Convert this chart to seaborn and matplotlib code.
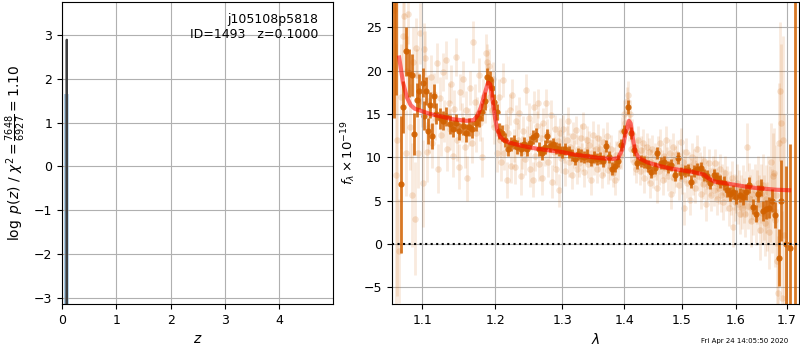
import numpy as np
import pandas as pd
import matplotlib
matplotlib.use("Agg")
import matplotlib.pyplot as plt
import seaborn as sns
from matplotlib.ticker import FixedLocator, FormatStrFormatter, NullLocator

# ---------------- data: left panel (redshift fit) ----------------
z_pdf = [0.0, 0.080, 0.0875, 0.095, 4.99]
logp_pdf = [-50.0, -50.0, 2.89, -50.0, -50.0]
z_chi = [0.036, 0.040, 0.122, 0.126]
chi_fill = [-10.0, 1.65, 1.65, -10.0]
z_ticks = [0, 1, 2, 3, 4]
logp_ticks = [-3, -2, -1, 0, 1, 2, 3]

# ---------------- data: right panel (spectrum) ----------------
wave_ticks = [1.1, 1.2, 1.3, 1.4, 1.5, 1.6, 1.7]

# model (wavelength, flux)
model_wave = [1.070, 1.075, 1.080, 1.085, 1.090, 1.100, 1.110, 1.120, 1.130, 1.140,
              1.150, 1.160, 1.170, 1.175, 1.180, 1.185, 1.190, 1.193, 1.196, 1.200,
              1.203, 1.207, 1.212, 1.220, 1.240, 1.260, 1.280, 1.300, 1.320, 1.340,
              1.360, 1.380, 1.390, 1.397, 1.403, 1.408, 1.411, 1.415, 1.419, 1.425,
              1.440, 1.460, 1.480, 1.500, 1.520, 1.540, 1.550, 1.560, 1.580, 1.600,
              1.620, 1.640, 1.660, 1.680, 1.705]
model_flux = [21.5, 18.6, 16.9, 16.0, 15.6, 15.3, 15.0, 14.8, 14.6, 14.4,
              14.3, 14.2, 14.3, 14.8, 15.8, 17.3, 18.6, 18.4, 16.8, 14.5,
              13.2, 12.4, 12.0, 11.7, 11.3, 11.0, 10.8, 10.6, 10.3, 10.1,
              9.9, 9.8, 9.9, 10.9, 12.9, 14.2, 13.9, 12.0, 10.6, 9.9,
              9.4, 9.0, 8.7, 8.5, 8.3, 8.0, 7.5, 7.2, 7.0, 6.8,
              6.6, 6.45, 6.35, 6.25, 6.2]

# binned spectrum (wavelength, flux, error)
binned_blue = [
    (1.0640, 31.0, 16.5), (1.0665, 31.0, 13.8), (1.0725, 6.9, 7.9), (1.0755, 15.8, 3.0),
    (1.0788, 22.2, 2.8), (1.0830, 19.7, 2.8), (1.0865, 19.5, 2.4), (1.0896, 12.7, 2.4),
    (1.0925, 16.6, 2.0), (1.0960, 17.6, 2.0), (1.1007, 18.6, 1.7), (1.1021, 14.8, 1.7),
    (1.1046, 17.6, 1.6), (1.1076, 13.0, 1.5), (1.1104, 16.0, 1.5), (1.1122, 12.4, 1.5),
    (1.1150, 17.1, 1.4), (1.1185, 15.0, 1.2), (1.1230, 14.5, 1.2), (1.1275, 14.2, 1.1),
    (1.1320, 14.7, 1.1), (1.1365, 13.8, 1.1), (1.1410, 13.3, 1.0), (1.1455, 14.0, 1.0),
    (1.1500, 13.0, 1.0), (1.1545, 13.6, 1.0), (1.1590, 12.8, 1.0), (1.1635, 13.5, 1.0),
    (1.1680, 13.2, 1.0), (1.1725, 14.0, 1.0), (1.1770, 14.5, 1.0), (1.1815, 15.2, 1.0),
    (1.1860, 16.5, 1.0), (1.1890, 19.3, 1.0), (1.1920, 19.0, 1.0), (1.1950, 18.0, 1.0),
    (1.1985, 16.4, 0.9), (1.2025, 15.2, 0.9), (1.2060, 13.0, 0.9), (1.2100, 12.8, 0.9),
]
binned_mid = [
    (1.2145, 12.0, 0.8), (1.2190, 11.0, 0.8), (1.2235, 11.5, 0.8), (1.2280, 11.8, 0.8),
    (1.2325, 11.2, 0.8), (1.2370, 11.0, 0.8), (1.2415, 11.5, 0.8), (1.2460, 10.9, 0.8),
    (1.2505, 11.7, 0.8), (1.2550, 12.3, 0.8), (1.2595, 12.6, 0.8), (1.2640, 11.0, 0.8),
    (1.2685, 10.5, 0.8), (1.2730, 11.2, 0.8), (1.2775, 12.5, 0.8), (1.2820, 11.3, 0.7),
    (1.2865, 11.5, 0.7), (1.2910, 11.1, 0.7), (1.2955, 10.9, 0.7), (1.3000, 10.6, 0.7),
    (1.3050, 11.0, 0.7), (1.3100, 10.6, 0.7), (1.3150, 10.3, 0.7), (1.3200, 9.8, 0.7),
    (1.3250, 10.4, 0.7), (1.3300, 10.2, 0.7), (1.3350, 10.0, 0.7), (1.3400, 10.2, 0.7),
    (1.3450, 9.7, 0.7), (1.3500, 10.0, 0.7), (1.3550, 9.8, 0.7), (1.3600, 9.9, 0.7),
    (1.3650, 9.6, 0.7), (1.3700, 11.3, 0.7), (1.3750, 10.0, 0.7), (1.3800, 8.7, 0.7),
    (1.3850, 9.0, 0.7), (1.3890, 9.6, 0.7), (1.3940, 11.4, 0.7), (1.3990, 13.0, 0.7),
    (1.4060, 15.8, 0.8), (1.4120, 12.8, 0.7), (1.4160, 10.8, 0.7), (1.4220, 9.3, 0.7),
    (1.4280, 9.6, 0.7), (1.4340, 9.5, 0.7), (1.4400, 9.0, 0.7), (1.4460, 8.3, 0.7),
    (1.4520, 8.8, 0.7), (1.4560, 10.5, 0.7), (1.4630, 9.3, 0.7), (1.4690, 9.4, 0.7),
]
binned_red = [
    (1.4750, 8.9, 0.7), (1.4810, 9.1, 0.7), (1.4870, 8.0, 0.7), (1.4930, 9.9, 0.7),
    (1.4990, 8.2, 0.7), (1.5050, 8.4, 0.7), (1.5110, 8.5, 0.7), (1.5160, 7.2, 0.7),
    (1.5220, 8.4, 0.7), (1.5280, 8.6, 0.7), (1.5340, 8.8, 0.7), (1.5400, 8.0, 0.7),
    (1.5460, 7.8, 0.7), (1.5520, 7.0, 0.7), (1.5580, 8.0, 0.7), (1.5640, 7.6, 0.7),
    (1.5700, 7.2, 0.8), (1.5770, 7.0, 0.8), (1.5830, 6.2, 0.8), (1.5890, 5.8, 0.8),
    (1.5950, 6.0, 0.8), (1.6010, 5.4, 0.8), (1.6070, 5.6, 0.8), (1.6130, 5.4, 0.9),
    (1.6200, 6.0, 0.9), (1.6260, 6.8, 0.9), (1.6330, 4.3, 0.9), (1.6380, 3.5, 1.0),
    (1.6420, 5.8, 1.0), (1.6490, 6.5, 1.0), (1.6530, 3.8, 1.1), (1.6580, 4.0, 1.1),
    (1.6650, 4.2, 1.2), (1.6710, 5.0, 1.3), (1.6760, 3.3, 1.5), (1.6850, -1.6, 3.3),
    (1.6880, 5.0, 4.7), (1.6990, 0.0, 9.0), (1.7075, -0.5, 12.0), (1.7165, 28.5, 40.0),
]

# unbinned spectrum (wavelength, flux, error)
unbinned_blue = [
    (1.0635, 27.0, 12.0), (1.0655, 8.0, 15.0), (1.0675, 12.0, 18.0), (1.0700, -0.8, 6.0),
    (1.0720, 17.0, 6.0), (1.0745, 24.0, 5.0), (1.0765, 26.3, 4.0), (1.0785, 10.5, 5.0),
    (1.0800, 20.0, 4.0), (1.0820, 26.5, 3.5), (1.0840, 13.5, 5.0), (1.0860, 5.7, 6.0),
    (1.0880, 21.0, 4.0), (1.0900, 2.9, 6.5), (1.0915, 22.6, 3.5), (1.0935, 19.5, 3.0),
    (1.0950, 10.5, 4.0), (1.0970, 24.3, 3.5), (1.0990, 16.5, 3.0), (1.1005, 7.0, 5.0),
    (1.1025, 22.5, 3.0), (1.1040, 21.5, 3.0), (1.1060, 10.6, 3.5), (1.1075, 16.5, 3.0),
    (1.1090, 13.5, 3.0), (1.1110, 19.2, 2.6), (1.1130, 11.6, 2.8), (1.1150, 17.3, 2.4),
    (1.1170, 14.5, 2.5), (1.1190, 20.9, 2.3), (1.1210, 8.7, 2.8), (1.1230, 16.8, 2.4),
    (1.1250, 12.6, 2.5), (1.1270, 19.8, 2.2), (1.1290, 14.2, 2.4), (1.1310, 21.2, 2.2),
    (1.1330, 11.0, 2.6), (1.1350, 16.3, 2.3), (1.1370, 13.2, 2.4), (1.1390, 18.4, 2.2),
    (1.1410, 10.2, 2.5), (1.1430, 15.6, 2.2), (1.1450, 21.6, 2.2), (1.1470, 12.0, 2.4),
    (1.1490, 8.9, 2.6), (1.1510, 17.5, 2.1), (1.1530, 14.0, 2.2), (1.1550, 19.0, 2.1),
    (1.1570, 11.2, 2.4), (1.1590, 15.4, 2.2), (1.1610, 7.6, 2.6), (1.1630, 13.5, 2.2),
    (1.1650, 18.0, 2.0), (1.1670, 11.6, 2.3), (1.1690, 23.3, 2.4), (1.1710, 16.4, 2.0),
    (1.1730, 12.8, 2.2), (1.1750, 15.0, 2.0), (1.1770, 19.5, 2.0), (1.1790, 14.0, 2.1),
    (1.1810, 10.0, 2.3), (1.1830, 17.0, 2.0), (1.1850, 16.0, 2.0), (1.1870, 22.0, 2.2),
    (1.1885, 21.0, 2.0), (1.1900, 18.5, 2.0), (1.1915, 20.5, 2.0), (1.1930, 17.0, 2.0),
    (1.1950, 15.5, 2.0), (1.1970, 19.0, 2.0), (1.1990, 13.5, 2.0), (1.2010, 14.5, 2.0),
    (1.2030, 10.5, 2.2), (1.2050, 17.0, 2.0), (1.2070, 12.0, 2.0), (1.2090, 9.5, 2.2),
]
unbinned_mid = [
    (1.2110, 18.9, 2.0), (1.2130, 10.5, 2.0), (1.2150, 13.5, 1.9), (1.2170, 7.4, 2.1),
    (1.2190, 12.8, 1.9), (1.2210, 15.5, 1.8), (1.2230, 9.0, 2.0), (1.2250, 17.2, 1.8),
    (1.2270, 11.4, 1.9), (1.2290, 8.9, 2.0), (1.2310, 14.2, 1.8), (1.2330, 12.0, 1.9),
    (1.2350, 15.1, 1.8), (1.2370, 7.8, 2.1), (1.2390, 10.6, 1.9), (1.2410, 13.0, 1.8),
    (1.2430, 9.8, 1.9), (1.2450, 17.8, 1.8), (1.2470, 11.8, 1.8), (1.2490, 14.5, 1.8),
    (1.2510, 8.6, 2.0), (1.2530, 12.5, 1.8), (1.2550, 7.4, 2.0), (1.2570, 15.8, 1.8),
    (1.2590, 10.2, 1.8), (1.2610, 13.6, 1.7), (1.2630, 16.2, 1.7), (1.2650, 9.2, 1.9),
    (1.2670, 12.2, 1.7), (1.2690, 7.6, 2.0), (1.2710, 14.0, 1.7), (1.2730, 10.8, 1.8),
    (1.2750, 16.2, 1.7), (1.2770, 12.7, 1.7), (1.2790, 9.5, 1.8), (1.2810, 11.6, 1.7),
    (1.2830, 14.9, 1.7), (1.2850, 7.2, 1.9), (1.2870, 10.6, 1.7), (1.2890, 13.2, 1.7),
    (1.2910, 8.6, 1.8), (1.2930, 11.9, 1.7), (1.2950, 6.2, 1.9), (1.2970, 12.8, 1.7),
    (1.2990, 9.9, 1.7), (1.3010, 13.3, 1.6), (1.3030, 10.9, 1.6), (1.3050, 8.4, 1.7),
    (1.3070, 12.0, 1.6), (1.3090, 14.2, 1.6), (1.3110, 9.4, 1.7), (1.3130, 11.2, 1.6),
    (1.3150, 8.0, 1.7), (1.3170, 12.5, 1.6), (1.3190, 10.4, 1.6), (1.3210, 13.1, 1.6),
    (1.3230, 8.6, 1.7), (1.3250, 11.0, 1.6), (1.3270, 9.3, 1.6), (1.3290, 12.2, 1.6),
    (1.3310, 10.0, 1.6), (1.3330, 13.6, 1.6), (1.3350, 8.3, 1.7), (1.3370, 10.8, 1.6),
    (1.3390, 12.0, 1.6), (1.3410, 9.2, 1.6), (1.3430, 11.4, 1.6), (1.3450, 7.4, 1.7),
    (1.3470, 10.5, 1.6), (1.3490, 12.6, 1.6), (1.3510, 9.6, 1.6), (1.3530, 11.0, 1.6),
    (1.3550, 8.6, 1.6), (1.3570, 12.2, 1.6), (1.3590, 9.9, 1.6), (1.3610, 10.9, 1.6),
    (1.3630, 8.0, 1.6), (1.3650, 11.8, 1.6), (1.3670, 9.4, 1.6), (1.3690, 10.5, 1.6),
    (1.3710, 12.5, 1.6), (1.3730, 8.5, 1.6), (1.3750, 10.2, 1.6), (1.3770, 9.0, 1.6),
    (1.3790, 11.0, 1.6), (1.3810, 8.2, 1.6), (1.3830, 9.6, 1.6), (1.3850, 7.4, 1.7),
    (1.3870, 10.3, 1.6), (1.3900, 9.0, 1.6), (1.3920, 11.5, 1.6), (1.3940, 10.2, 1.6),
    (1.3960, 13.0, 1.6), (1.3980, 11.8, 1.6), (1.4000, 15.0, 1.6), (1.4020, 14.0, 1.6),
    (1.4040, 16.5, 1.6), (1.4060, 17.2, 1.6), (1.4080, 13.5, 1.6), (1.4100, 15.0, 1.6),
    (1.4120, 11.0, 1.6), (1.4140, 12.8, 1.6), (1.4160, 9.5, 1.6), (1.4180, 11.2, 1.6),
    (1.4200, 8.6, 1.6), (1.4220, 10.5, 1.6),
]
unbinned_red = [
    (1.4240, 12.0, 1.6), (1.4260, 8.4, 1.6), (1.4280, 10.8, 1.6), (1.4300, 9.6, 1.6),
    (1.4320, 11.6, 1.6), (1.4340, 7.6, 1.7), (1.4360, 9.9, 1.6), (1.4380, 11.2, 1.6),
    (1.4400, 8.6, 1.6), (1.4420, 10.6, 1.6), (1.4440, 7.0, 1.7), (1.4460, 9.4, 1.6),
    (1.4480, 11.0, 1.6), (1.4500, 8.1, 1.6), (1.4520, 10.1, 1.6), (1.4540, 9.0, 1.6),
    (1.4560, 6.4, 1.7), (1.4580, 10.8, 1.6), (1.4600, 8.4, 1.6), (1.4620, 11.6, 1.6),
    (1.4640, 9.2, 1.6), (1.4660, 7.4, 1.7), (1.4680, 10.1, 1.6), (1.4700, 8.8, 1.6),
    (1.4720, 12.0, 1.6), (1.4740, 9.6, 1.6), (1.4760, 7.8, 1.7), (1.4780, 10.5, 1.6),
    (1.4800, 5.8, 1.8), (1.4820, 9.0, 1.6), (1.4840, 11.2, 1.6), (1.4860, 7.6, 1.7),
    (1.4880, 9.7, 1.6), (1.4900, 8.2, 1.6), (1.4920, 10.4, 1.6), (1.4940, 6.8, 1.7),
    (1.4960, 8.9, 1.6), (1.4980, 11.8, 1.6), (1.5000, 7.5, 1.7), (1.5020, 9.4, 1.6),
    (1.5040, 4.1, 1.9), (1.5060, 8.6, 1.6), (1.5080, 10.6, 1.6), (1.5100, 7.0, 1.7),
    (1.5120, 9.0, 1.6), (1.5140, 5.1, 1.8), (1.5160, 8.2, 1.6), (1.5180, 10.0, 1.6),
    (1.5200, 7.3, 1.7), (1.5220, 9.3, 1.6), (1.5240, 6.4, 1.7), (1.5260, 8.6, 1.6),
    (1.5280, 11.0, 1.6), (1.5300, 7.8, 1.7), (1.5320, 9.0, 1.6), (1.5340, 5.8, 1.8),
    (1.5360, 8.4, 1.7), (1.5380, 6.9, 1.7), (1.5400, 9.6, 1.7), (1.5420, 7.5, 1.7),
    (1.5440, 4.6, 1.9), (1.5460, 8.0, 1.7), (1.5480, 6.8, 1.7), (1.5500, 9.3, 1.7),
    (1.5520, 7.2, 1.7), (1.5540, 5.6, 1.8), (1.5560, 8.4, 1.7), (1.5580, 6.2, 1.8),
    (1.5600, 9.3, 1.7), (1.5620, 7.0, 1.8), (1.5640, 5.2, 1.9), (1.5660, 7.8, 1.8),
    (1.5680, 6.4, 1.8), (1.5700, 8.6, 1.8), (1.5720, 5.6, 1.9), (1.5740, 7.4, 1.8),
    (1.5760, 4.8, 2.0), (1.5780, 6.8, 1.9), (1.5800, 8.2, 1.9), (1.5820, 5.8, 2.0),
    (1.5840, 7.0, 2.0), (1.5860, 4.2, 2.1), (1.5880, 6.4, 2.0), (1.5900, 5.4, 2.1),
    (1.5920, 7.6, 2.0), (1.5940, 2.0, 2.3), (1.5960, 6.0, 2.1), (1.5980, 4.8, 2.2),
    (1.6000, 5.8, 2.2), (1.6020, 7.0, 2.2), (1.6040, 4.6, 2.3), (1.6060, 6.2, 2.3),
    (1.6080, 3.5, 2.4), (1.6100, 5.5, 2.4), (1.6120, 4.2, 2.5), (1.6140, 6.6, 2.5),
    (1.6160, 5.0, 2.6), (1.6180, 3.4, 2.6), (1.6200, 5.8, 2.6), (1.6220, 11.2, 2.8),
    (1.6240, 4.4, 2.7), (1.6260, 6.6, 2.7), (1.6280, 5.2, 2.8), (1.6300, 2.6, 2.9),
    (1.6320, 5.8, 2.9), (1.6340, 4.0, 3.0), (1.6360, 6.2, 3.0), (1.6380, 3.0, 3.1),
    (1.6400, 5.4, 3.1), (1.6420, 7.0, 3.2), (1.6440, 4.6, 3.3), (1.6460, 1.6, 3.4),
    (1.6480, 5.8, 3.4), (1.6500, 3.6, 3.5), (1.6520, 6.8, 3.6), (1.6540, 4.2, 3.7),
    (1.6560, 2.4, 3.8), (1.6580, 5.2, 3.9), (1.6600, 3.2, 4.0), (1.6620, 6.0, 4.1),
    (1.6640, 1.4, 4.3), (1.6660, 4.6, 4.4), (1.6680, 9.4, 4.6), (1.6700, 3.8, 4.8),
    (1.6720, 7.8, 5.0), (1.6740, 8.2, 5.2), (1.6760, 2.8, 5.5), (1.6780, 5.6, 5.8),
    (1.6800, -2.0, 6.0), (1.6820, -5.6, 6.5), (1.6840, 11.6, 7.0), (1.6860, 17.6, 8.0),
    (1.6880, 14.0, 9.0), (1.6900, -6.2, 10.0), (1.6920, 12.0, 12.0), (1.6940, 1.0, 14.0),
]

# ---------------- build tables ----------------
def to_frame(*groups):
    rows = [r for g in groups for r in g]
    return pd.DataFrame(rows, columns=["wave", "flux", "err"])

binned = to_frame(binned_blue, binned_mid, binned_red)
unbinned = to_frame(unbinned_blue, unbinned_mid, unbinned_red)
model = pd.DataFrame({"wave": model_wave, "flux": model_flux})
pdf = pd.DataFrame({"z": z_pdf, "logp": logp_pdf})

# ---------------- figure ----------------
plt.rcParams["font.size"] = 9
fig = plt.figure(figsize=(8, 3.5), dpi=100)
ax1 = fig.add_axes([0.0775, 0.1314, 0.3388, 0.8629])
ax2 = fig.add_axes([0.4896, 0.1314, 0.5095, 0.8629])

# left panel
sns.lineplot(data=pdf, x="z", y="logp", ax=ax1, color="0.25", lw=1.5,
             estimator=None, sort=False)
ax1.fill_between(z_chi, chi_fill, -10, color="#7fb2d9", alpha=0.75, lw=0)
ax1.set_xlim(0, 4.99)
ax1.set_ylim(-3.14, 3.75)
ax1.set_xticks(z_ticks)
ax1.set_yticks(logp_ticks)
ax1.grid(True)
ax1.set_xlabel(r"$z$", fontsize=10)
ax1.set_ylabel(r"$\log\ p(z)$ / $\chi^2=\frac{7648}{6927}=1.10$", fontsize=10)
ax1.text(0.945, 0.965, "j105108p5818\nID=1493   z=0.1000", transform=ax1.transAxes,
         ha="right", va="top", multialignment="right", fontsize=9)

# right panel
orange = (0.82, 0.38, 0.0)
ax2.errorbar(unbinned["wave"], unbinned["flux"], yerr=unbinned["err"], fmt="none",
             ecolor=orange, alpha=0.13, elinewidth=2, capsize=0)
sns.scatterplot(data=unbinned, x="wave", y="flux", ax=ax2, color=orange, alpha=0.17,
                s=22, linewidth=0, legend=False)
ax2.errorbar(binned["wave"], binned["flux"], yerr=binned["err"], fmt="none",
             ecolor=orange, alpha=0.85, elinewidth=2, capsize=0)
sns.scatterplot(data=binned, x="wave", y="flux", ax=ax2, color=orange, alpha=0.9,
                s=20, linewidth=0, legend=False)
sns.lineplot(data=model, x="wave", y="flux", ax=ax2, color="red", alpha=0.55, lw=3,
             estimator=None)
ax2.axhline(0, color="k", ls=":", lw=1.5)

ax2.set_xscale("log")
ax2.set_xlim(1.0605, 1.7259)
ax2.set_ylim(-6.92, 27.9)
ax2.xaxis.set_major_locator(FixedLocator(wave_ticks))
ax2.xaxis.set_major_formatter(FormatStrFormatter("%.1f"))
ax2.xaxis.set_minor_locator(NullLocator())
ax2.grid(True)
ax2.set_xlabel(r"$\lambda$", fontsize=10)
ax2.set_ylabel(r"$f_\lambda\times10^{-19}$", fontsize=9.5)

fig.text(0.985, 0.018, "Fri Apr 24 14:05:50 2020", ha="right", va="bottom", fontsize=5)

fig.savefig("out.png", dpi=100)
